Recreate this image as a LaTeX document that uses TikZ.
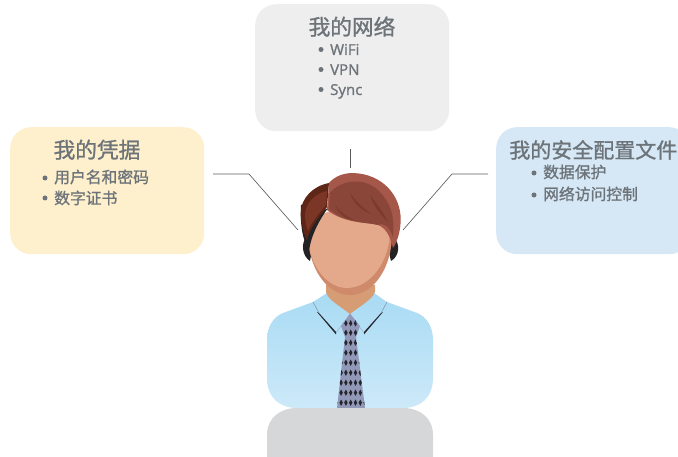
\documentclass[tikz,border=0pt]{standalone}
\usepackage{fontspec}
\setmainfont{Noto Sans CJK SC}[FakeBold=1.1]
\newfontfamily\latinfont{Open Sans}[FakeBold=1.2]
\definecolor{txtgray}{HTML}{6D7479}
\definecolor{boxyellow}{HTML}{FEEFCD}
\definecolor{boxblue}{HTML}{D6E7F6}
\definecolor{boxgray}{HTML}{EEEEEE}
\definecolor{linegray}{HTML}{5A5A5A}
\definecolor{shirttop}{HTML}{A8DBF4}
\definecolor{shirtbot}{HTML}{CDE9F9}
\definecolor{desk}{HTML}{D6D7D9}
\definecolor{skin}{HTML}{E3A98A}
\definecolor{skinshade}{HTML}{CF8A6C}
\definecolor{neckc}{HTML}{D69C74}
\definecolor{hairmain}{HTML}{A5574A}
\definecolor{hairin}{HTML}{8A4639}
\definecolor{hairstroke}{HTML}{7A3A2C}
\definecolor{hairdark}{HTML}{5E2617}
\definecolor{hairdin}{HTML}{7C3626}
\definecolor{hairblack}{HTML}{232326}
\definecolor{tiec}{HTML}{9298B8}
\definecolor{tiedot}{HTML}{26262E}
\tikzset{
  panel/.style={fill=#1,draw=none,rounded corners=21pt,minimum width=194pt,minimum height=127pt,inner sep=0pt,anchor=north west},
  heading/.style={text=txtgray,font=\fontsize{21.7}{24}\selectfont,inner sep=0pt,anchor=base},
  item/.style={text=txtgray,font=\fontsize{15.8}{18}\selectfont,inner sep=0pt,anchor=base west},
  latinitem/.style={text=txtgray,font=\latinfont\fontsize{15}{18}\selectfont,inner sep=0pt,anchor=base west},
  bulletdot/.style={circle,fill=txtgray,draw=none,minimum size=5pt,inner sep=0pt},
  leader/.style={draw=linegray,line width=0.65pt},
}
\begin{document}
\begin{tikzpicture}[x=1pt,y=-1pt]
\useasboundingbox (0,0) rectangle (678,457);
\clip (0,0) rectangle (678,457);
% panels
\node[panel=boxgray] (netbox) at (255,4) {};
\node[panel=boxyellow] (credbox) at (10,127) {};
\node[panel=boxblue] (profbox) at (496,127) {};
% texts
\node[heading] (nettitle) at (352,35) {我的网络};
\node[bulletdot] (b1) at (321,49.5) {};
\node[latinitem] (n1) at (330,55) {WiFi};
\node[bulletdot] (b2) at (321,69.5) {};
\node[latinitem] (n2) at (330,75) {VPN};
\node[bulletdot] (b3) at (321,89.5) {};
\node[latinitem] (n3) at (330,95) {Sync};
\node[heading] (credtitle) at (97,158) {我的凭据};
\node[bulletdot] (b4) at (45,178) {};
\node[item] (c1) at (54,183) {用户名和密码};
\node[bulletdot] (b5) at (45,198) {};
\node[item] (c2) at (54,204) {数字证书};
\node[heading,font=\fontsize{21}{24}\selectfont,anchor=base east] (proftitle) at (677.5,158) {我的安全配置文件};
\node[bulletdot] (b6) at (534,173) {};
\node[item] (p1) at (543,178) {数据保护};
\node[bulletdot] (b7) at (534,195) {};
\node[item] (p2) at (543,200) {网络访问控制};
% connectors
\coordinate (la) at (213,174); \coordinate (lb) at (249,174); \coordinate (lc) at (298,230);
\coordinate (ta) at (350.5,149); \coordinate (tb) at (350.5,168);
\coordinate (ra) at (488,174); \coordinate (rb) at (452,174); \coordinate (rc) at (403,230);
\draw[leader] (la) -- (lb) -- (lc);
\draw[leader] (ta) -- (tb);
\draw[leader] (ra) -- (rb) -- (rc);
% shirt
\path[top color=shirttop,bottom color=shirtbot,draw=none]
  (327,293) -- (313,302) -- (283,313) .. controls (273,317) and (267,327) .. (267,340)
  -- (267,378) .. controls (267,398) and (280,408) .. (297,408)
  -- (403,408) .. controls (420,408) and (433,398) .. (433,378)
  -- (433,340) .. controls (433,327) and (427,317) .. (417,313) -- (387,302) -- (374,293) -- cycle;
% desk
\fill[desk] (267,457) -- (267,435) .. controls (267,418) and (280,408) .. (297,408)
  -- (403,408) .. controls (420,408) and (433,418) .. (433,435) -- (433,457) -- cycle;
% tie
\begin{scope}
\clip (350,313.5) -- (341,326) -- (345,337) -- (337,408) -- (365,408) -- (356,337) -- (360,326) -- cycle;
\fill[tiec] (335,310) rectangle (367,408);
\foreach \yy/\cols in {
  323.3/{-4.8,0,4.8},332.7/{-4.8,0,4.8},342.7/{-4.8,0,4.8},352.7/{-9.6,-4.8,0,4.8,9.6},
  362.7/{-9.6,-4.8,0,4.8,9.6},372.7/{-9.6,-4.8,0,4.8,9.6},382.7/{-9.6,-4.8,0,4.8,9.6},
  392.7/{-14.4,-9.6,-4.8,0,4.8,9.6,14.4},402.7/{-14.4,-9.6,-4.8,0,4.8,9.6,14.4}}{
  \foreach \cc in \cols {
    \fill[tiedot] (350.7+\cc,\yy-3.2) -- (350.7+\cc+1.7,\yy) -- (350.7+\cc,\yy+3.2) -- (350.7+\cc-1.7,\yy) -- cycle;
  }
}
\end{scope}
% collar shadow
\fill[tiedot] (319,313) -- (336,332) -- (336,334.5) -- (317,312) -- cycle;
\fill[tiedot] (381,313) -- (364,332) -- (364,334.5) -- (383,312) -- cycle;
\draw[tiedot!45!shirttop,line width=0.4pt] (313,302) -- (319,313);
\draw[tiedot!45!shirttop,line width=0.4pt] (387,302) -- (381,313);
\draw[tiec!80!shirttop,line width=0.4pt] (336,333) -- (344,322);
\draw[tiec!80!shirttop,line width=0.4pt] (364,333) -- (356,322);
% neck
\fill[neckc] (326,285) -- (326,292) .. controls (328,300) and (340,306) .. (350,314)
  .. controls (360,306) and (372,300) .. (375,292) -- (375,285) -- cycle;
% ears
\fill[hairblack] (306,238) .. controls (301,243) and (302,256) .. (310,261) -- (314,240) -- cycle;
\fill[hairblack] (394,238) .. controls (400,243) and (400,256) .. (391,261) -- (386,240) -- cycle;
% black hair under
\fill[hairblack] (301,205) .. controls (300,222) and (302,240) .. (309,250) -- (322,220) -- (315,200) -- cycle;
% face
\fill[skinshade] (308,235) .. controls (308,265) and (325,295) .. (350,295)
  .. controls (375,295) and (392,265) .. (392,235) .. controls (392,200) and (308,200) .. (308,235) -- cycle;
\fill[skin] (308,235) .. controls (308,262) and (325,288) .. (347,288)
  .. controls (372,288) and (390,258) .. (390,232) .. controls (390,200) and (308,200) .. (308,235) -- cycle;
% black sliver between left hair and face
\fill[hairblack] (309,251) .. controls (311,236) and (318,222) .. (328,208) -- (312,216) -- (304,232) -- cycle;
% left hair
\fill[hairdark] (329,183) .. controls (313,186) and (301,198) .. (300.7,213)
  .. controls (300.5,222) and (303,232) .. (307,240) .. controls (310,228) and (318,218) .. (327,207) -- cycle;
\fill[hairdin] (327,191) .. controls (316,193) and (306,202) .. (305,214)
  .. controls (305,220) and (306,226) .. (308,231) .. controls (311,223) and (317,216) .. (326,205) -- cycle;
% main hair
\fill[hairmain] (329,183) .. controls (335,176) and (344,173) .. (353,173)
  .. controls (383,174) and (401,196) .. (400.7,220)
  .. controls (400.5,232) and (397,242) .. (393,248)
  .. controls (390,236) and (386,228) .. (378,225)
  .. controls (368,222) and (345,224) .. (327,210) -- cycle;
\fill[hairin] (330,193) .. controls (340,180) and (365,176) .. (380,192)
  .. controls (390,203) and (395,215) .. (393,237)
  .. controls (390,228) and (385,222) .. (378,225)
  .. controls (368,222) and (345,224) .. (329,209) -- cycle;
\fill[hairstroke] (350,193) .. controls (355,200) and (362,208) .. (372,214) .. controls (362,211) and (354,204) .. (350,193) -- cycle;
\fill[hairstroke] (370,195) .. controls (376,203) and (382,210) .. (388,222) .. controls (380,214) and (373,205) .. (370,195) -- cycle;
\fill[hairstroke] (335,205) .. controls (340,212) and (346,216) .. (354,220) .. controls (345,219) and (338,213) .. (335,205) -- cycle;
\end{tikzpicture}
\end{document}
